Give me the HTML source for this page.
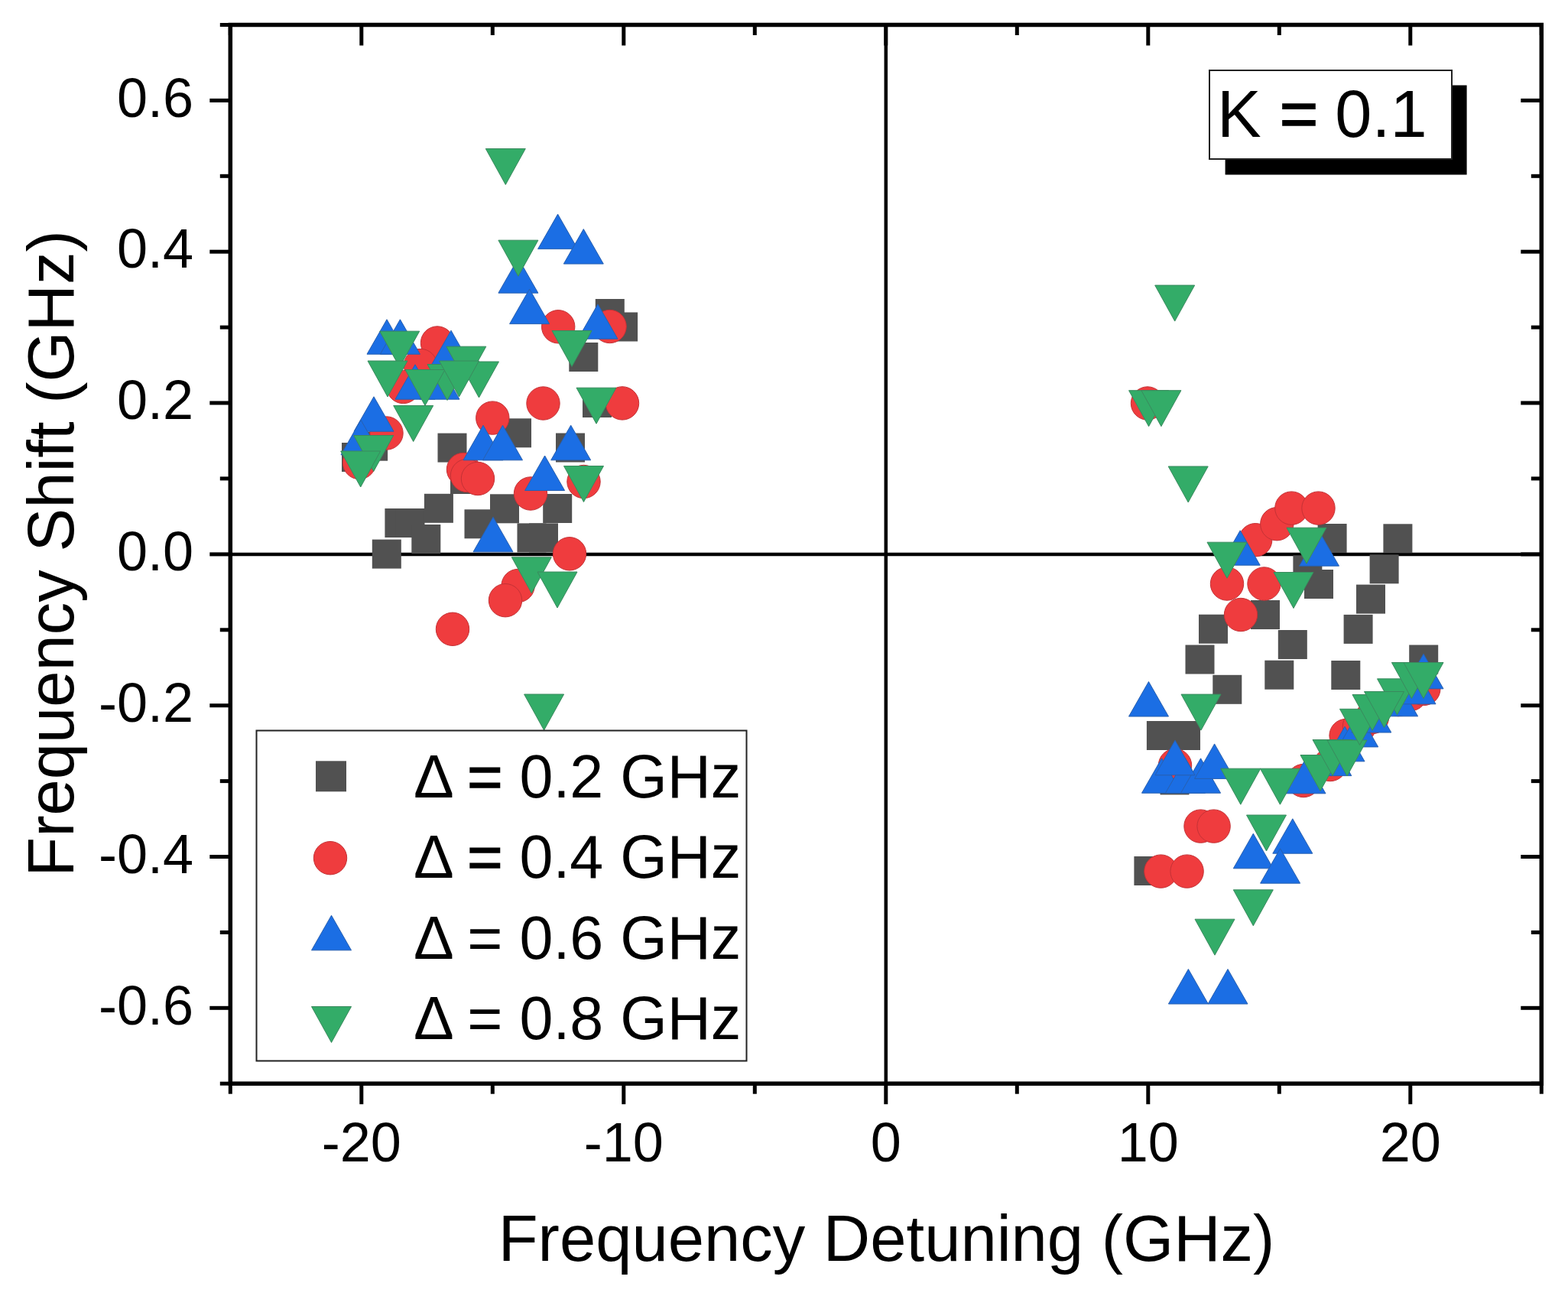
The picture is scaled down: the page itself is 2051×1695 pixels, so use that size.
<!DOCTYPE html>
<html><head><meta charset="utf-8"><style>html,body{margin:0;padding:0;background:#fff;overflow:hidden}svg{display:block}</style></head><body>
<svg width="2051" height="1695" viewBox="0 0 2051 1695">
<rect width="2051" height="1695" fill="#fff"/>
<line x1="301.3" y1="724.9" x2="2016.3" y2="724.9" stroke="#000" stroke-width="4.5"/>
<line x1="1158.8" y1="32.5" x2="1158.8" y2="1417.2" stroke="#000" stroke-width="4.5"/>
<g><rect x="486.8" y="705.6" width="38" height="38" fill="#515151"/><rect x="503.4" y="665.0" width="38" height="38" fill="#515151"/><rect x="517.5" y="665.0" width="38" height="38" fill="#515151"/><rect x="538.3" y="686.0" width="38" height="38" fill="#515151"/><rect x="554.9" y="645.8" width="38" height="38" fill="#515151"/><rect x="572.5" y="566.6" width="38" height="38" fill="#515151"/><rect x="469.1" y="564.7" width="38" height="38" fill="#515151"/><rect x="447.0" y="579.0" width="38" height="38" fill="#515151"/><rect x="589.0" y="608.0" width="38" height="38" fill="#515151"/><rect x="607.5" y="666.3" width="38" height="38" fill="#515151"/><rect x="641.0" y="646.3" width="38" height="38" fill="#515151"/><rect x="657.0" y="547.3" width="38" height="38" fill="#515151"/><rect x="676.5" y="684.4" width="38" height="38" fill="#515151"/><rect x="692.0" y="684.4" width="38" height="38" fill="#515151"/><rect x="710.2" y="646.0" width="38" height="38" fill="#515151"/><rect x="727.0" y="566.5" width="38" height="38" fill="#515151"/><rect x="744.3" y="448.0" width="38" height="38" fill="#515151"/><rect x="762.0" y="508.0" width="38" height="38" fill="#515151"/><rect x="778.8" y="391.0" width="38" height="38" fill="#515151"/><rect x="796.1" y="408.5" width="38" height="38" fill="#515151"/><rect x="1483.4" y="1120.0" width="38" height="38" fill="#515151"/><rect x="1499.9" y="943.0" width="38" height="38" fill="#515151"/><rect x="1532.0" y="943.0" width="38" height="38" fill="#515151"/><rect x="1517.5" y="1001.4" width="38" height="38" fill="#515151"/><rect x="1550.5" y="843.5" width="38" height="38" fill="#515151"/><rect x="1568.0" y="803.7" width="38" height="38" fill="#515151"/><rect x="1586.3" y="882.8" width="38" height="38" fill="#515151"/><rect x="1636.0" y="785.0" width="38" height="38" fill="#515151"/><rect x="1671.8" y="824.0" width="38" height="38" fill="#515151"/><rect x="1654.3" y="863.7" width="38" height="38" fill="#515151"/><rect x="1691.4" y="726.3" width="38" height="38" fill="#515151"/><rect x="1706.0" y="745.0" width="38" height="38" fill="#515151"/><rect x="1723.6" y="685.0" width="38" height="38" fill="#515151"/><rect x="1741.3" y="864.0" width="38" height="38" fill="#515151"/><rect x="1757.6" y="803.9" width="38" height="38" fill="#515151"/><rect x="1774.0" y="764.6" width="38" height="38" fill="#515151"/><rect x="1791.6" y="725.3" width="38" height="38" fill="#515151"/><rect x="1809.4" y="685.3" width="38" height="38" fill="#515151"/><rect x="1843.2" y="843.5" width="38" height="38" fill="#515151"/><circle cx="572.0" cy="448.5" r="21.7" fill="#ef3c3e" stroke="#c43236" stroke-width="1"/><circle cx="550.0" cy="478.0" r="21.7" fill="#ef3c3e" stroke="#c43236" stroke-width="1"/><circle cx="527.5" cy="506.0" r="21.7" fill="#ef3c3e" stroke="#c43236" stroke-width="1"/><circle cx="505.5" cy="566.5" r="21.7" fill="#ef3c3e" stroke="#c43236" stroke-width="1"/><circle cx="470.0" cy="605.0" r="21.7" fill="#ef3c3e" stroke="#c43236" stroke-width="1"/><circle cx="644.3" cy="546.6" r="21.7" fill="#ef3c3e" stroke="#c43236" stroke-width="1"/><circle cx="710.5" cy="527.5" r="21.7" fill="#ef3c3e" stroke="#c43236" stroke-width="1"/><circle cx="730.2" cy="427.3" r="21.7" fill="#ef3c3e" stroke="#c43236" stroke-width="1"/><circle cx="797.6" cy="427.0" r="21.7" fill="#ef3c3e" stroke="#c43236" stroke-width="1"/><circle cx="814.0" cy="527.4" r="21.7" fill="#ef3c3e" stroke="#c43236" stroke-width="1"/><circle cx="606.0" cy="614.0" r="21.7" fill="#ef3c3e" stroke="#c43236" stroke-width="1"/><circle cx="611.0" cy="622.0" r="21.7" fill="#ef3c3e" stroke="#c43236" stroke-width="1"/><circle cx="625.0" cy="626.0" r="21.7" fill="#ef3c3e" stroke="#c43236" stroke-width="1"/><circle cx="694.0" cy="645.5" r="21.7" fill="#ef3c3e" stroke="#c43236" stroke-width="1"/><circle cx="745.0" cy="724.3" r="21.7" fill="#ef3c3e" stroke="#c43236" stroke-width="1"/><circle cx="677.6" cy="766.0" r="21.7" fill="#ef3c3e" stroke="#c43236" stroke-width="1"/><circle cx="661.0" cy="785.2" r="21.7" fill="#ef3c3e" stroke="#c43236" stroke-width="1"/><circle cx="592.0" cy="822.8" r="21.7" fill="#ef3c3e" stroke="#c43236" stroke-width="1"/><circle cx="763.5" cy="630.0" r="21.7" fill="#ef3c3e" stroke="#c43236" stroke-width="1"/><circle cx="1501.0" cy="527.5" r="21.7" fill="#ef3c3e" stroke="#c43236" stroke-width="1"/><circle cx="1642.2" cy="706.2" r="21.7" fill="#ef3c3e" stroke="#c43236" stroke-width="1"/><circle cx="1670.3" cy="685.2" r="21.7" fill="#ef3c3e" stroke="#c43236" stroke-width="1"/><circle cx="1689.4" cy="664.6" r="21.7" fill="#ef3c3e" stroke="#c43236" stroke-width="1"/><circle cx="1724.5" cy="664.6" r="21.7" fill="#ef3c3e" stroke="#c43236" stroke-width="1"/><circle cx="1605.0" cy="763.5" r="21.7" fill="#ef3c3e" stroke="#c43236" stroke-width="1"/><circle cx="1653.5" cy="763.5" r="21.7" fill="#ef3c3e" stroke="#c43236" stroke-width="1"/><circle cx="1623.0" cy="804.0" r="21.7" fill="#ef3c3e" stroke="#c43236" stroke-width="1"/><circle cx="1570.5" cy="1080.6" r="21.7" fill="#ef3c3e" stroke="#c43236" stroke-width="1"/><circle cx="1587.6" cy="1080.6" r="21.7" fill="#ef3c3e" stroke="#c43236" stroke-width="1"/><circle cx="1518.4" cy="1139.6" r="21.7" fill="#ef3c3e" stroke="#c43236" stroke-width="1"/><circle cx="1552.6" cy="1139.6" r="21.7" fill="#ef3c3e" stroke="#c43236" stroke-width="1"/><circle cx="1537.0" cy="1001.0" r="21.7" fill="#ef3c3e" stroke="#c43236" stroke-width="1"/><circle cx="1705.0" cy="1021.0" r="21.7" fill="#ef3c3e" stroke="#c43236" stroke-width="1"/><circle cx="1740.0" cy="1000.0" r="21.7" fill="#ef3c3e" stroke="#c43236" stroke-width="1"/><circle cx="1760.6" cy="962.0" r="21.7" fill="#ef3c3e" stroke="#c43236" stroke-width="1"/><circle cx="1778.0" cy="950.0" r="21.7" fill="#ef3c3e" stroke="#c43236" stroke-width="1"/><circle cx="1795.0" cy="938.0" r="21.7" fill="#ef3c3e" stroke="#c43236" stroke-width="1"/><circle cx="1829.0" cy="915.0" r="21.7" fill="#ef3c3e" stroke="#c43236" stroke-width="1"/><circle cx="1845.0" cy="908.0" r="21.7" fill="#ef3c3e" stroke="#c43236" stroke-width="1"/><circle cx="1862.3" cy="900.9" r="21.7" fill="#ef3c3e" stroke="#c43236" stroke-width="1"/><polygon points="506.0,417.8 532.0,463.2 480.0,463.2" fill="#1b6ee4" stroke="#2860b0" stroke-width="1" stroke-linejoin="miter"/><polygon points="523.4,417.8 549.4,463.2 497.4,463.2" fill="#1b6ee4" stroke="#2860b0" stroke-width="1" stroke-linejoin="miter"/><polygon points="590.0,432.2 616.0,477.8 564.0,477.8" fill="#1b6ee4" stroke="#2860b0" stroke-width="1" stroke-linejoin="miter"/><polygon points="543.0,476.8 569.0,522.2 517.0,522.2" fill="#1b6ee4" stroke="#2860b0" stroke-width="1" stroke-linejoin="miter"/><polygon points="575.0,476.8 601.0,522.2 549.0,522.2" fill="#1b6ee4" stroke="#2860b0" stroke-width="1" stroke-linejoin="miter"/><polygon points="489.0,518.8 515.0,564.2 463.0,564.2" fill="#1b6ee4" stroke="#2860b0" stroke-width="1" stroke-linejoin="miter"/><polygon points="472.0,549.2 498.0,594.8 446.0,594.8" fill="#1b6ee4" stroke="#2860b0" stroke-width="1" stroke-linejoin="miter"/><polygon points="632.0,556.2 658.0,601.8 606.0,601.8" fill="#1b6ee4" stroke="#2860b0" stroke-width="1" stroke-linejoin="miter"/><polygon points="657.5,556.2 683.5,601.8 631.5,601.8" fill="#1b6ee4" stroke="#2860b0" stroke-width="1" stroke-linejoin="miter"/><polygon points="746.7,556.2 772.7,601.8 720.7,601.8" fill="#1b6ee4" stroke="#2860b0" stroke-width="1" stroke-linejoin="miter"/><polygon points="712.6,596.0 738.6,641.5 686.6,641.5" fill="#1b6ee4" stroke="#2860b0" stroke-width="1" stroke-linejoin="miter"/><polygon points="645.0,676.2 671.0,721.8 619.0,721.8" fill="#1b6ee4" stroke="#2860b0" stroke-width="1" stroke-linejoin="miter"/><polygon points="729.6,280.1 755.6,325.6 703.6,325.6" fill="#1b6ee4" stroke="#2860b0" stroke-width="1" stroke-linejoin="miter"/><polygon points="763.3,299.6 789.3,345.1 737.3,345.1" fill="#1b6ee4" stroke="#2860b0" stroke-width="1" stroke-linejoin="miter"/><polygon points="677.9,337.8 703.9,383.2 651.9,383.2" fill="#1b6ee4" stroke="#2860b0" stroke-width="1" stroke-linejoin="miter"/><polygon points="692.6,378.1 718.6,423.6 666.6,423.6" fill="#1b6ee4" stroke="#2860b0" stroke-width="1" stroke-linejoin="miter"/><polygon points="782.0,397.8 808.0,443.2 756.0,443.2" fill="#1b6ee4" stroke="#2860b0" stroke-width="1" stroke-linejoin="miter"/><polygon points="1622.2,693.8 1648.2,739.2 1596.2,739.2" fill="#1b6ee4" stroke="#2860b0" stroke-width="1" stroke-linejoin="miter"/><polygon points="1725.5,694.8 1751.5,740.2 1699.5,740.2" fill="#1b6ee4" stroke="#2860b0" stroke-width="1" stroke-linejoin="miter"/><polygon points="1502.5,891.5 1528.5,937.0 1476.5,937.0" fill="#1b6ee4" stroke="#2860b0" stroke-width="1" stroke-linejoin="miter"/><polygon points="1519.5,991.8 1545.5,1037.2 1493.5,1037.2" fill="#1b6ee4" stroke="#2860b0" stroke-width="1" stroke-linejoin="miter"/><polygon points="1550.5,991.8 1576.5,1037.2 1524.5,1037.2" fill="#1b6ee4" stroke="#2860b0" stroke-width="1" stroke-linejoin="miter"/><polygon points="1570.6,991.8 1596.6,1037.2 1544.6,1037.2" fill="#1b6ee4" stroke="#2860b0" stroke-width="1" stroke-linejoin="miter"/><polygon points="1588.6,972.9 1614.6,1018.4 1562.6,1018.4" fill="#1b6ee4" stroke="#2860b0" stroke-width="1" stroke-linejoin="miter"/><polygon points="1537.0,968.2 1563.0,1013.8 1511.0,1013.8" fill="#1b6ee4" stroke="#2860b0" stroke-width="1" stroke-linejoin="miter"/><polygon points="1639.3,1090.2 1665.3,1135.8 1613.3,1135.8" fill="#1b6ee4" stroke="#2860b0" stroke-width="1" stroke-linejoin="miter"/><polygon points="1690.8,1070.8 1716.8,1116.2 1664.8,1116.2" fill="#1b6ee4" stroke="#2860b0" stroke-width="1" stroke-linejoin="miter"/><polygon points="1674.6,1109.8 1700.6,1155.2 1648.6,1155.2" fill="#1b6ee4" stroke="#2860b0" stroke-width="1" stroke-linejoin="miter"/><polygon points="1554.4,1267.5 1580.4,1313.0 1528.4,1313.0" fill="#1b6ee4" stroke="#2860b0" stroke-width="1" stroke-linejoin="miter"/><polygon points="1606.0,1267.5 1632.0,1313.0 1580.0,1313.0" fill="#1b6ee4" stroke="#2860b0" stroke-width="1" stroke-linejoin="miter"/><polygon points="1708.0,992.2 1734.0,1037.8 1682.0,1037.8" fill="#1b6ee4" stroke="#2860b0" stroke-width="1" stroke-linejoin="miter"/><polygon points="1741.8,969.1 1767.8,1014.6 1715.8,1014.6" fill="#1b6ee4" stroke="#2860b0" stroke-width="1" stroke-linejoin="miter"/><polygon points="1759.0,950.2 1785.0,995.8 1733.0,995.8" fill="#1b6ee4" stroke="#2860b0" stroke-width="1" stroke-linejoin="miter"/><polygon points="1776.7,931.4 1802.7,976.9 1750.7,976.9" fill="#1b6ee4" stroke="#2860b0" stroke-width="1" stroke-linejoin="miter"/><polygon points="1793.8,912.5 1819.8,958.0 1767.8,958.0" fill="#1b6ee4" stroke="#2860b0" stroke-width="1" stroke-linejoin="miter"/><polygon points="1828.6,891.2 1854.6,936.8 1802.6,936.8" fill="#1b6ee4" stroke="#2860b0" stroke-width="1" stroke-linejoin="miter"/><polygon points="1852.0,875.2 1878.0,920.8 1826.0,920.8" fill="#1b6ee4" stroke="#2860b0" stroke-width="1" stroke-linejoin="miter"/><polygon points="1862.0,855.2 1888.0,900.8 1836.0,900.8" fill="#1b6ee4" stroke="#2860b0" stroke-width="1" stroke-linejoin="miter"/><polygon points="635.3,194.5 687.3,194.5 661.3,241.5" fill="#33ac68" stroke="#3a8a5e" stroke-width="1" stroke-linejoin="miter"/><polygon points="651.9,314.2 703.9,314.2 677.9,361.2" fill="#33ac68" stroke="#3a8a5e" stroke-width="1" stroke-linejoin="miter"/><polygon points="722.0,432.5 774.0,432.5 748.0,479.5" fill="#33ac68" stroke="#3a8a5e" stroke-width="1" stroke-linejoin="miter"/><polygon points="496.7,433.2 548.7,433.2 522.7,480.2" fill="#33ac68" stroke="#3a8a5e" stroke-width="1" stroke-linejoin="miter"/><polygon points="583.8,453.2 635.8,453.2 609.8,500.2" fill="#33ac68" stroke="#3a8a5e" stroke-width="1" stroke-linejoin="miter"/><polygon points="600.5,473.0 652.5,473.0 626.5,520.0" fill="#33ac68" stroke="#3a8a5e" stroke-width="1" stroke-linejoin="miter"/><polygon points="559.0,476.5 611.0,476.5 585.0,523.5" fill="#33ac68" stroke="#3a8a5e" stroke-width="1" stroke-linejoin="miter"/><polygon points="530.0,483.5 582.0,483.5 556.0,530.5" fill="#33ac68" stroke="#3a8a5e" stroke-width="1" stroke-linejoin="miter"/><polygon points="574.5,472.0 626.5,472.0 600.5,519.0" fill="#33ac68" stroke="#3a8a5e" stroke-width="1" stroke-linejoin="miter"/><polygon points="481.0,472.0 533.0,472.0 507.0,519.0" fill="#33ac68" stroke="#3a8a5e" stroke-width="1" stroke-linejoin="miter"/><polygon points="514.7,530.5 566.7,530.5 540.7,577.5" fill="#33ac68" stroke="#3a8a5e" stroke-width="1" stroke-linejoin="miter"/><polygon points="462.7,569.5 514.7,569.5 488.7,616.5" fill="#33ac68" stroke="#3a8a5e" stroke-width="1" stroke-linejoin="miter"/><polygon points="445.7,590.0 497.7,590.0 471.7,637.0" fill="#33ac68" stroke="#3a8a5e" stroke-width="1" stroke-linejoin="miter"/><polygon points="737.5,609.5 789.5,609.5 763.5,656.5" fill="#33ac68" stroke="#3a8a5e" stroke-width="1" stroke-linejoin="miter"/><polygon points="669.3,728.8 721.3,728.8 695.3,775.8" fill="#33ac68" stroke="#3a8a5e" stroke-width="1" stroke-linejoin="miter"/><polygon points="703.0,748.0 755.0,748.0 729.0,795.0" fill="#33ac68" stroke="#3a8a5e" stroke-width="1" stroke-linejoin="miter"/><polygon points="685.6,908.0 737.6,908.0 711.6,955.0" fill="#33ac68" stroke="#3a8a5e" stroke-width="1" stroke-linejoin="miter"/><polygon points="754.0,507.2 806.0,507.2 780.0,554.2" fill="#33ac68" stroke="#3a8a5e" stroke-width="1" stroke-linejoin="miter"/><polygon points="1510.7,373.1 1562.7,373.1 1536.7,420.1" fill="#33ac68" stroke="#3a8a5e" stroke-width="1" stroke-linejoin="miter"/><polygon points="1476.6,510.7 1528.6,510.7 1502.6,557.7" fill="#33ac68" stroke="#3a8a5e" stroke-width="1" stroke-linejoin="miter"/><polygon points="1492.9,510.7 1544.9,510.7 1518.9,557.7" fill="#33ac68" stroke="#3a8a5e" stroke-width="1" stroke-linejoin="miter"/><polygon points="1528.2,610.0 1580.2,610.0 1554.2,657.0" fill="#33ac68" stroke="#3a8a5e" stroke-width="1" stroke-linejoin="miter"/><polygon points="1579.0,709.2 1631.0,709.2 1605.0,756.2" fill="#33ac68" stroke="#3a8a5e" stroke-width="1" stroke-linejoin="miter"/><polygon points="1683.0,690.2 1735.0,690.2 1709.0,737.2" fill="#33ac68" stroke="#3a8a5e" stroke-width="1" stroke-linejoin="miter"/><polygon points="1666.0,748.5 1718.0,748.5 1692.0,795.5" fill="#33ac68" stroke="#3a8a5e" stroke-width="1" stroke-linejoin="miter"/><polygon points="1545.0,908.1 1597.0,908.1 1571.0,955.1" fill="#33ac68" stroke="#3a8a5e" stroke-width="1" stroke-linejoin="miter"/><polygon points="1596.8,1005.2 1648.8,1005.2 1622.8,1052.2" fill="#33ac68" stroke="#3a8a5e" stroke-width="1" stroke-linejoin="miter"/><polygon points="1648.4,1005.2 1700.4,1005.2 1674.4,1052.2" fill="#33ac68" stroke="#3a8a5e" stroke-width="1" stroke-linejoin="miter"/><polygon points="1630.5,1066.0 1682.5,1066.0 1656.5,1113.0" fill="#33ac68" stroke="#3a8a5e" stroke-width="1" stroke-linejoin="miter"/><polygon points="1613.3,1163.8 1665.3,1163.8 1639.3,1210.8" fill="#33ac68" stroke="#3a8a5e" stroke-width="1" stroke-linejoin="miter"/><polygon points="1563.0,1202.2 1615.0,1202.2 1589.0,1249.2" fill="#33ac68" stroke="#3a8a5e" stroke-width="1" stroke-linejoin="miter"/><polygon points="1701.0,987.5 1753.0,987.5 1727.0,1034.5" fill="#33ac68" stroke="#3a8a5e" stroke-width="1" stroke-linejoin="miter"/><polygon points="1717.0,967.5 1769.0,967.5 1743.0,1014.5" fill="#33ac68" stroke="#3a8a5e" stroke-width="1" stroke-linejoin="miter"/><polygon points="1736.0,968.0 1788.0,968.0 1762.0,1015.0" fill="#33ac68" stroke="#3a8a5e" stroke-width="1" stroke-linejoin="miter"/><polygon points="1752.5,927.3 1804.5,927.3 1778.5,974.3" fill="#33ac68" stroke="#3a8a5e" stroke-width="1" stroke-linejoin="miter"/><polygon points="1769.0,908.5 1821.0,908.5 1795.0,955.5" fill="#33ac68" stroke="#3a8a5e" stroke-width="1" stroke-linejoin="miter"/><polygon points="1801.5,887.8 1853.5,887.8 1827.5,934.8" fill="#33ac68" stroke="#3a8a5e" stroke-width="1" stroke-linejoin="miter"/><polygon points="1784.5,904.5 1836.5,904.5 1810.5,951.5" fill="#33ac68" stroke="#3a8a5e" stroke-width="1" stroke-linejoin="miter"/><polygon points="1820.4,866.5 1872.4,866.5 1846.4,913.5" fill="#33ac68" stroke="#3a8a5e" stroke-width="1" stroke-linejoin="miter"/><polygon points="1836.0,866.5 1888.0,866.5 1862.0,913.5" fill="#33ac68" stroke="#3a8a5e" stroke-width="1" stroke-linejoin="miter"/></g>
<rect x="301.3" y="32.5" width="1715.0" height="1384.7" fill="none" stroke="#000" stroke-width="5.5"/>
<g stroke="#000" stroke-width="5" stroke-linecap="butt"><line x1="301.3" y1="1417.2" x2="301.3" y2="1430.7"/><line x1="301.3" y1="32.5" x2="301.3" y2="46.0"/><line x1="472.8" y1="1417.2" x2="472.8" y2="1444.2"/><line x1="472.8" y1="32.5" x2="472.8" y2="59.5"/><line x1="644.3" y1="1417.2" x2="644.3" y2="1430.7"/><line x1="644.3" y1="32.5" x2="644.3" y2="46.0"/><line x1="815.8" y1="1417.2" x2="815.8" y2="1444.2"/><line x1="815.8" y1="32.5" x2="815.8" y2="59.5"/><line x1="987.3" y1="1417.2" x2="987.3" y2="1430.7"/><line x1="987.3" y1="32.5" x2="987.3" y2="46.0"/><line x1="1158.8" y1="1417.2" x2="1158.8" y2="1444.2"/><line x1="1158.8" y1="32.5" x2="1158.8" y2="59.5"/><line x1="1330.3" y1="1417.2" x2="1330.3" y2="1430.7"/><line x1="1330.3" y1="32.5" x2="1330.3" y2="46.0"/><line x1="1501.8" y1="1417.2" x2="1501.8" y2="1444.2"/><line x1="1501.8" y1="32.5" x2="1501.8" y2="59.5"/><line x1="1673.3" y1="1417.2" x2="1673.3" y2="1430.7"/><line x1="1673.3" y1="32.5" x2="1673.3" y2="46.0"/><line x1="1844.8" y1="1417.2" x2="1844.8" y2="1444.2"/><line x1="1844.8" y1="32.5" x2="1844.8" y2="59.5"/><line x1="2016.3" y1="1417.2" x2="2016.3" y2="1430.7"/><line x1="2016.3" y1="32.5" x2="2016.3" y2="46.0"/><line x1="301.3" y1="1417.2" x2="287.8" y2="1417.2"/><line x1="2016.3" y1="1417.2" x2="2002.8" y2="1417.2"/><line x1="301.3" y1="1318.3" x2="274.3" y2="1318.3"/><line x1="2016.3" y1="1318.3" x2="1989.3" y2="1318.3"/><line x1="301.3" y1="1219.4" x2="287.8" y2="1219.4"/><line x1="2016.3" y1="1219.4" x2="2002.8" y2="1219.4"/><line x1="301.3" y1="1120.5" x2="274.3" y2="1120.5"/><line x1="2016.3" y1="1120.5" x2="1989.3" y2="1120.5"/><line x1="301.3" y1="1021.6" x2="287.8" y2="1021.6"/><line x1="2016.3" y1="1021.6" x2="2002.8" y2="1021.6"/><line x1="301.3" y1="922.7" x2="274.3" y2="922.7"/><line x1="2016.3" y1="922.7" x2="1989.3" y2="922.7"/><line x1="301.3" y1="823.8" x2="287.8" y2="823.8"/><line x1="2016.3" y1="823.8" x2="2002.8" y2="823.8"/><line x1="301.3" y1="724.9" x2="274.3" y2="724.9"/><line x1="2016.3" y1="724.9" x2="1989.3" y2="724.9"/><line x1="301.3" y1="625.9" x2="287.8" y2="625.9"/><line x1="2016.3" y1="625.9" x2="2002.8" y2="625.9"/><line x1="301.3" y1="527.0" x2="274.3" y2="527.0"/><line x1="2016.3" y1="527.0" x2="1989.3" y2="527.0"/><line x1="301.3" y1="428.1" x2="287.8" y2="428.1"/><line x1="2016.3" y1="428.1" x2="2002.8" y2="428.1"/><line x1="301.3" y1="329.2" x2="274.3" y2="329.2"/><line x1="2016.3" y1="329.2" x2="1989.3" y2="329.2"/><line x1="301.3" y1="230.3" x2="287.8" y2="230.3"/><line x1="2016.3" y1="230.3" x2="2002.8" y2="230.3"/><line x1="301.3" y1="131.4" x2="274.3" y2="131.4"/><line x1="2016.3" y1="131.4" x2="1989.3" y2="131.4"/><line x1="301.3" y1="32.5" x2="287.8" y2="32.5"/><line x1="2016.3" y1="32.5" x2="2002.8" y2="32.5"/></g>
<g font-family="'Liberation Sans', Arial, sans-serif" font-size="72" fill="#000"><text x="472.8" y="1519" text-anchor="middle">-20</text><text x="815.8" y="1519" text-anchor="middle">-10</text><text x="1158.8" y="1519" text-anchor="middle">0</text><text x="1501.8" y="1519" text-anchor="middle">10</text><text x="1844.8" y="1519" text-anchor="middle">20</text><text x="253" y="1339.5" text-anchor="end">-0.6</text><text x="253" y="1141.7" text-anchor="end">-0.4</text><text x="253" y="943.9" text-anchor="end">-0.2</text><text x="253" y="746.1" text-anchor="end">0.0</text><text x="253" y="548.2" text-anchor="end">0.2</text><text x="253" y="350.4" text-anchor="end">0.4</text><text x="253" y="152.6" text-anchor="end">0.6</text></g>
<text font-family="'Liberation Sans', Arial, sans-serif" font-size="85" x="1159.5" y="1649" text-anchor="middle">Frequency Detuning (GHz)</text>
<text font-family="'Liberation Sans', Arial, sans-serif" font-size="85" transform="translate(95.5,724) rotate(-90)" text-anchor="middle">Frequency Shift (GHz)</text>
<rect x="1602.6" y="111.5" width="316" height="117" fill="#000"/>
<rect x="1582" y="92" width="317" height="116" fill="#fff" stroke="#222" stroke-width="2"/>
<text font-family="'Liberation Sans', Arial, sans-serif" font-size="86.5" x="1592" y="179">K <tspan stroke="#000" stroke-width="1.6">=</tspan> <tspan dx="-2">0.1</tspan></text>
<rect x="335.5" y="955.5" width="641" height="432" fill="#fff" stroke="#222" stroke-width="2"/>
<rect x="413.0" y="995.3" width="40" height="40" fill="#515151"/>
<circle cx="432.0" cy="1122.2" r="21.7" fill="#ef3c3e" stroke="#c43236" stroke-width="1"/>
<polygon points="433.5,1197.2 459.5,1242.8 407.5,1242.8" fill="#1b6ee4" stroke="#2860b0" stroke-width="1" stroke-linejoin="miter"/>
<polygon points="407.5,1316.5 459.5,1316.5 433.5,1363.5" fill="#33ac68" stroke="#3a8a5e" stroke-width="1" stroke-linejoin="miter"/>
<text font-family="'Liberation Sans', Arial, sans-serif" font-size="79" x="541" y="1043.3">Δ <tspan stroke="#000" stroke-width="1.6">=</tspan> 0.2 GHz</text>
<text font-family="'Liberation Sans', Arial, sans-serif" font-size="79" x="541" y="1148.4">Δ <tspan stroke="#000" stroke-width="1.6">=</tspan> 0.4 GHz</text>
<text font-family="'Liberation Sans', Arial, sans-serif" font-size="79" x="541" y="1253.5">Δ = 0.6 GHz</text>
<text font-family="'Liberation Sans', Arial, sans-serif" font-size="79" x="541" y="1358.6">Δ = 0.8 GHz</text>
</svg>
</body></html>
